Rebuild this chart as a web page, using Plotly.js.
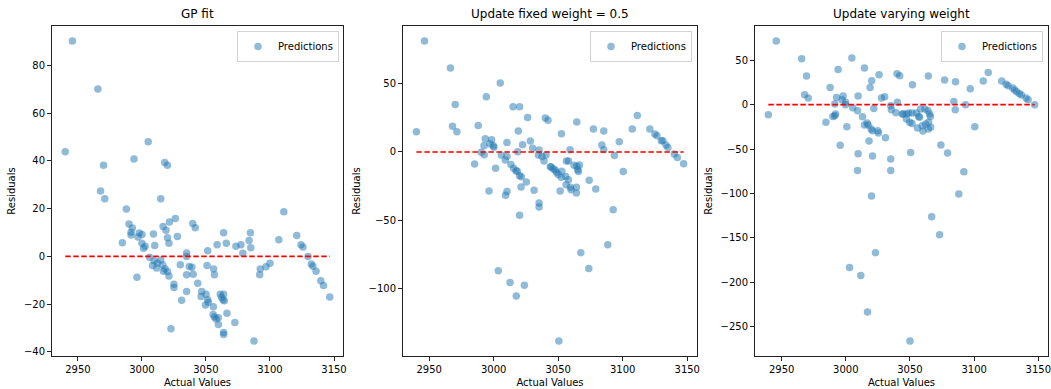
<!DOCTYPE html>
<html>
<head>
<meta charset="utf-8">
<script src="https://cdn.plot.ly/plotly-3.0.1.min.js"></script>
<style>html,body{margin:0;padding:0;background:#fff;}#chart{width:1051px;height:389px;}</style>
</head>
<body>
<div id="chart"></div>
<script>
// ---------- data ----------
const panelTitles = ["GP fit", "Update fixed weight = 0.5", "Update varying weight"];
const seriesName = "Predictions";
const xTickVals = [2950, 3000, 3050, 3100, 3150];
const yTicksGP = [-40, -20, 0, 20, 40, 60, 80];
const yTicksFixed = [-100, -50, 0, 50];
const yTicksVary = [-250, -200, -150, -100, -50, 0, 50];

const xGP = [2945.7,2965.6,2940.1,3004.9,2993.8,3017.8,3019.9,2970.0,2967.7,2971.0,3014.7,2987.8,2989.9,2992.5,2991.5,2991.5,2997.9,3000.0,2996.9,2984.7,3000.0,3002.5,3001.3,3009.0,3010.0,3016.5,3018.8,3021.5,3026.1,3019.9,3021.1,3027.7,3006.0,3009.5,3012.1,3008.3,3011.6,3014.7,3016.3,3018.0,3016.8,3019.9,3021.1,2996.1,3025.0,3025.0,3031.0,3022.7,3030.0,3034.9,3034.9,3037.0,3039.0,3034.9,3040.0,3043.6,3034.9,3039.7,3041.6,3046.7,3046.2,3050.1,3051.4,3049.6,3051.9,3051.4,3050.9,3056.0,3056.6,3058.7,3055.8,3055.6,3056.6,3059.7,3057.9,3059.7,3061.2,3063.8,3062.2,3064.3,3063.3,3063.8,3065.9,3066.4,3063.8,3063.8,3072.6,3073.4,3077.3,3078.8,3083.7,3084.7,3085.0,3087.5,3092.0,3092.4,3096.9,3100.0,3106.9,3110.8,3120.9,3124.2,3125.8,3129.7,3132.3,3133.5,3136.0,3139.7,3141.8,3146.7];
const resGP = [90.3,70.2,43.9,48.1,40.8,39.4,38.2,38.2,27.4,24.1,24.1,19.9,13.6,11.9,10.1,9.0,9.8,9.2,8.1,5.7,5.5,4.2,3.4,9.4,4.5,12.5,10.9,14.4,15.9,7.8,5.5,8.3,-0.4,-1.9,-2.8,-3.8,-4.9,-1.5,-3.6,-5.2,-6.3,-6.4,-8.2,-8.8,-11.7,-13.1,-18.4,-30.4,-3.5,1.4,-0.1,-4.3,-4.6,-7.7,-7.5,-11.3,-14.7,13.8,12.0,-14.7,-16.8,-15.9,-18.2,-20.4,-19.3,2.3,-3.8,-5.3,-7.7,4.9,-21.1,-24.4,-25.4,-25.8,-26.3,-28.6,-15.9,-15.9,-17.2,-18.6,-18.2,9.9,5.5,-23.9,-31.9,-32.8,-27.7,4.2,4.9,1.3,6.6,9.9,3.6,-35.5,-7.7,-5.3,-4.4,-2.9,7.0,18.7,8.7,4.9,3.9,-0.1,-3.2,-4.2,-6.3,-10.2,-12.2,-17.0];

const xFixed = [2946.4,2966.5,3005.1,2994.3,2970.2,3015.0,3020.1,3026.3,3040.0,3042.1,2940.1,2968.1,2971.5,2988.0,3019.1,2993.5,2998.4,2992.5,2997.1,3000.2,2999.7,2990.4,2992.7,3010.3,3022.4,3028.4,3018.6,3030.2,3035.2,3034.6,3037.5,3040.6,3039.0,3043.9,3046.3,3005.9,3009.0,3010.3,2985.2,3001.5,3013.4,3015.5,3017.3,3018.3,3020.1,3021.4,3025.3,3021.2,3031.3,2996.4,3010.3,3009.2,3035.2,3035.2,3020.1,3003.6,3012.7,3023.8,3017.5,3052.5,3064.4,3077.3,3085.3,3083.8,3085.3,3097.3,3093.6,3100.4,3107.4,3111.3,3121.0,3124.9,3126.5,3129.9,3131.1,3133.5,3135.0,3140.0,3142.3,3147.2,3059.2,3044.5,3047.6,3048.8,3050.0,3052.8,3052.3,3056.4,3058.0,3055.8,3057.9,3056.1,3059.5,3060.0,3051.5,3062.3,3064.4,3066.5,3065.1,3065.7,3064.1,3064.1,3074.0,3079.1,3092.6,3088.4,3067.5,3073.7,3050.5];
const resFixed = [81.3,61.5,50.5,40.5,34.7,33.2,33.2,25.3,24.9,23.2,14.9,18.8,14.9,19.3,15.4,9.7,9.0,4.6,6.1,3.4,4.6,-0.3,-2.0,7.0,5.3,8.1,0.2,2.7,1.5,-2.2,-3.4,-2.2,-6.6,-10.8,-12.5,-2.2,-5.9,-3.2,-8.8,-12.0,-9.1,-12.0,-13.7,-14.2,-17.4,-18.1,-22.0,-25.6,-28.1,-28.6,-28.9,-31.8,-37.4,-40.3,-46.4,-87.0,-95.7,-97.7,-105.5,13.4,22.0,16.8,15.4,5.1,1.7,7.5,-2.5,-14.4,16.8,26.8,16.8,13.2,11.9,8.3,8.3,5.1,3.2,-1.5,-4.0,-8.6,1.7,-11.0,-13.2,-14.9,-16.6,-14.2,-18.6,-6.6,-6.6,-17.9,-20.3,-24.0,-25.9,-27.6,-28.6,-9.8,-10.5,-9.5,-13.0,-14.4,-25.9,-30.0,-20.8,-27.1,-42.3,-67.9,-73.8,-85.3,-138.5];

const xVary = [2945.8,2965.6,3004.7,2994.0,3014.5,3025.9,3039.9,3042.0,2969.4,3020.2,3018.9,2987.8,2967.9,2970.7,2992.8,2997.9,2997.1,2999.8,2999.8,2991.4,3009.6,3027.8,3030.3,3040.2,2939.6,2984.5,2992.0,2989.9,2991.4,3005.4,3009.1,3000.8,3013.0,3014.5,3016.6,3017.4,3019.7,3020.8,3021.8,3024.9,3025.4,3030.9,3018.1,3035.0,3035.5,3039.1,3044.6,2995.6,3009.6,3020.8,3035.0,3009.1,3035.0,3020.0,3023.1,3002.9,3011.7,3016.9,3051.9,3064.3,3077.0,3085.5,3084.2,3085.3,3097.0,3093.3,3100.5,3107.1,3111.0,3121.5,3125.0,3126.5,3130.1,3131.6,3133.2,3135.3,3136.9,3140.5,3142.1,3147.2,3044.1,3047.2,3049.0,3051.6,3055.0,3056.8,3058.3,3061.7,3064.0,3065.3,3065.9,3047.2,3049.8,3051.6,3055.8,3060.1,3059.6,3062.2,3064.5,3066.1,3064.3,3057.5,3050.5,3074.1,3079.3,3092.0,3088.1,3066.9,3073.1,3050.0];
const resVary = [71.8,51.9,52.6,39.8,41.4,33.8,35.0,32.7,32.4,27.1,19.5,19.5,11.3,7.6,8.2,9.8,5.6,2.6,0.0,0.8,9.8,7.6,9.0,2.6,-11.3,-19.9,-10.5,-13.2,-12.4,-3.4,-6.8,-24.8,-13.5,-22.9,-20.6,-22.9,-27.4,-29.3,-4.2,-29.3,-31.9,-37.2,-41.0,-1.1,-5.6,-9.0,-10.5,-45.9,-55.3,-57.9,-61.3,-74.1,-74.1,-103.0,-166.9,-183.5,-192.5,-233.8,22.6,32.4,27.9,25.9,3.7,-5.6,18.0,0.0,-24.8,26.7,36.4,26.7,22.9,21.4,18.8,16.6,14.7,12.4,10.9,7.6,5.6,0.0,-10.5,-10.5,-9.4,-9.4,-9.4,-13.2,-4.8,-4.8,-6.8,-10.5,-13.2,-16.1,-19.9,-21.1,-26.3,-29.7,-23.7,-21.8,-19.9,-25.6,-27.4,-14.3,-53.8,-45.5,-54.5,-75.6,-100.7,-126.3,-146.6,-266.5];

// ---------- layout ----------
const W = 1051, H = 389;
const M = {l: 0, r: 0, t: 26, b: 33};
const domains = [[52/W, 343/W], [403/W, 697/W], [755/W, 1048/W]];
const legendRight = [339/W, 692/W, 1043/W];
const panels = [
  {x: xGP, y: resGP, yt: yTicksGP},
  {x: xFixed, y: resFixed, yt: yTicksFixed},
  {x: xVary, y: resVary, yt: yTicksVary}
];
function padRange(a) {
  const mn = Math.min(...a), mx = Math.max(...a), p = (mx - mn) * 0.05;
  return [mn - p, mx + p];
}
const FONT = "DejaVu Sans, Liberation Sans, sans-serif";
const traces = [];
const layout = {
  width: W, height: H, margin: M, paper_bgcolor: "#fff", plot_bgcolor: "#fff",
  font: {family: FONT, size: 10, color: "#000"},
  showlegend: true, annotations: []
};
panels.forEach((p, i) => {
  const n = i === 0 ? "" : String(i + 1);
  const xa = "x" + n, ya = "y" + n;
  const lg = "legend" + n;
  traces.push({
    type: "scatter", mode: "markers", x: p.x, y: p.y, xaxis: xa, yaxis: ya,
    name: seriesName, legend: lg,
    marker: {color: "rgba(31,119,180,0.5)", size: 7.5, line: {width: 0}}
  });
  const xmn = Math.min(...p.x), xmx = Math.max(...p.x);
  traces.push({
    type: "scatter", mode: "lines", x: [xmn, xmx], y: [0, 0], xaxis: xa, yaxis: ya,
    showlegend: false, hoverinfo: "skip",
    line: {color: "rgb(255,0,0)", width: 1.6, dash: "5.5px,2.5px"}
  });
  const axCommon = {
    showgrid: false, zeroline: false, showline: true, mirror: true,
    linecolor: "#222", linewidth: 1, ticks: "outside", ticklen: 4, tickwidth: 1,
    tickcolor: "#222", tickfont: {size: 10, family: FONT, color: "#000"}
  };
  layout["xaxis" + n] = Object.assign({}, axCommon, {
    domain: domains[i], anchor: ya, range: padRange(p.x),
    tickmode: "array", tickvals: xTickVals,
    title: {text: "Actual Values", font: {size: 10, family: FONT}, standoff: 4}
  });
  layout["yaxis" + n] = Object.assign({}, axCommon, {
    domain: [0, 1], anchor: xa, range: padRange(p.y),
    tickmode: "array", tickvals: p.yt,
    title: {text: "Residuals", font: {size: 10, family: FONT}, standoff: 6}
  });
  layout[lg] = {
    x: legendRight[i], xanchor: "right", y: 0.985, yanchor: "top",
    bgcolor: "rgba(255,255,255,0.8)", bordercolor: "#d3d3d3", borderwidth: 1,
    font: {size: 10, family: FONT, color: "#000"}, itemwidth: 30
  };
  layout.annotations.push({
    text: panelTitles[i], xref: "paper", yref: "paper",
    x: (domains[i][0] + domains[i][1]) / 2, y: 1, xanchor: "center", yanchor: "bottom",
    yshift: 3, showarrow: false, font: {size: 12, family: FONT, color: "#000"}
  });
});
Plotly.newPlot("chart", traces, layout, {staticPlot: true, displayModeBar: false});
</script>
</body>
</html>
